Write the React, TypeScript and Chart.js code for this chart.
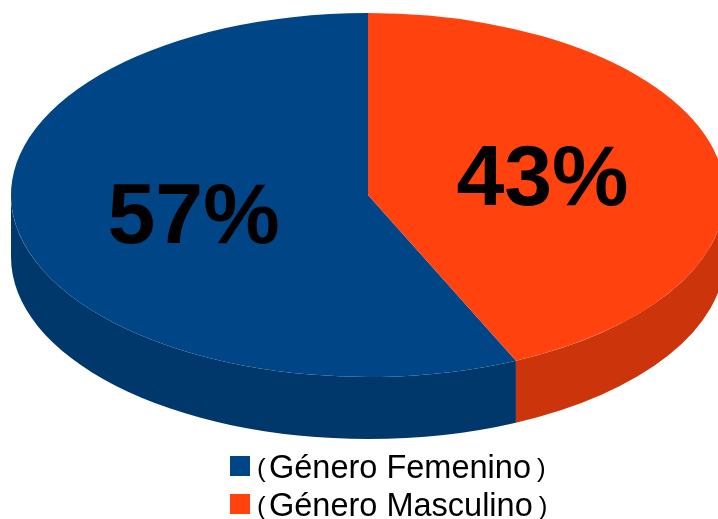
import React, { useEffect, useRef } from "react";
import { Chart, registerables } from "chart.js";

Chart.register(...registerables);

const genderLabels = ["Género Femenino", "Género Masculino"];
const genderShares = [56.8, 43.2];
const topColors = ["#004586", "#ff420e"];
const sideColors = ["#00386c", "#cc350b"];

const WIDTH = 718;
const HEIGHT = 519;
const RADIUS = 357;
const SQUASH = 182 / 357;
const TOP_CENTER_Y = 195;
const DEPTH = 62;

const percentFont = 'bold 86px "Liberation Sans"';
const legendFont = '32.5px "Liberation Sans"';
const parenFont = '26px "Liberation Sans"';

const pie3d = {
  id: "pie3d",
  beforeDatasetsDraw(chart: any) {
    const ctx = chart.ctx;
    const arcs = chart.getDatasetMeta(0).data;
    const ry = RADIUS * SQUASH;
    arcs.forEach((arc: any, i: number) => {
      [0, 2 * Math.PI].forEach((shift) => {
        const a0 = Math.max(arc.startAngle, shift);
        const a1 = Math.min(arc.endAngle, shift + Math.PI);
        if (a1 <= a0) return;
        ctx.save();
        ctx.beginPath();
        ctx.ellipse(arc.x, TOP_CENTER_Y, arc.outerRadius, ry, 0, a0, a1);
        ctx.ellipse(arc.x, TOP_CENTER_Y + DEPTH, arc.outerRadius, ry, 0, a1, a0, true);
        ctx.closePath();
        ctx.fillStyle = sideColors[i];
        ctx.fill();
        ctx.restore();
      });
    });
    const cy = arcs[0].y;
    ctx.save();
    ctx.translate(0, TOP_CENTER_Y);
    ctx.scale(1, SQUASH);
    ctx.translate(0, -cy);
  },
  afterDatasetsDraw(chart: any) {
    const ctx = chart.ctx;
    ctx.restore();
    const arcs = chart.getDatasetMeta(0).data;
    ctx.save();
    ctx.font = percentFont;
    ctx.fillStyle = "#000000";
    ctx.textAlign = "center";
    ctx.textBaseline = "middle";
    const nudge = [5, 6];
    arcs.forEach((arc: any, i: number) => {
      const p = arc.getCenterPoint();
      const y = TOP_CENTER_Y + (p.y - arc.y) * SQUASH;
      ctx.fillText(Math.round(genderShares[i]) + "%", p.x, y + nudge[i]);
    });
    ctx.restore();
  },
  afterDraw(chart: any) {
    const ctx = chart.ctx;
    const rows = [
      { swatchY: 456, baseY: 478 },
      { swatchY: 494, baseY: 516 },
    ];
    ctx.save();
    ctx.textBaseline = "alphabetic";
    ctx.textAlign = "left";
    genderLabels.forEach((label, i) => {
      const r = rows[i];
      ctx.fillStyle = topColors[i];
      ctx.fillRect(230, r.swatchY, 20, 20);
      ctx.fillStyle = "#000000";
      ctx.font = parenFont;
      ctx.fillText("(", 257, r.baseY - 1);
      ctx.font = legendFont;
      ctx.fillText(label, 269, r.baseY);
      const w = ctx.measureText(label).width;
      ctx.font = parenFont;
      ctx.fillText(")", 269 + w + 6, r.baseY - 1);
    });
    ctx.restore();
  },
};

export default function App() {
  const ref = useRef<HTMLCanvasElement>(null);
  useEffect(() => {
    const chart = new Chart(ref.current!, {
      type: "pie",
      data: {
        labels: genderLabels,
        datasets: [
          {
            data: genderShares,
            backgroundColor: topColors,
            borderWidth: 0,
            radius: RADIUS,
            clip: false,
          } as any,
        ],
      },
      options: {
        responsive: false,
        animation: false,
        rotation: (genderShares[1] / 100) * 360,
        layout: { padding: { left: 18 } },
        plugins: { legend: { display: false }, tooltip: { enabled: false } },
      },
      plugins: [pie3d],
    });
    return () => chart.destroy();
  }, []);
  return (
    <canvas
      ref={ref}
      width={WIDTH}
      height={HEIGHT}
      style={{ position: "absolute", left: 0, top: 0, display: "block", width: WIDTH, height: HEIGHT }}
    />
  );
}
